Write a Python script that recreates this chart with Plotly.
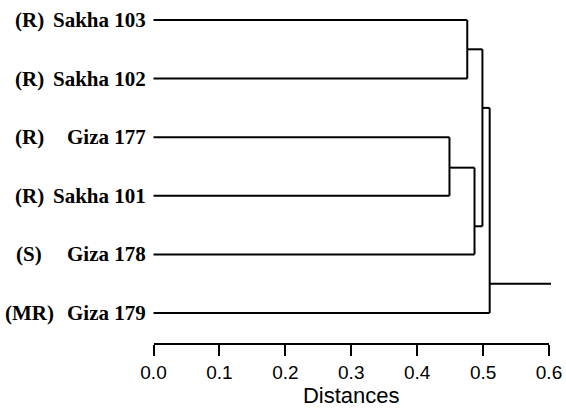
import plotly.graph_objects as go

# ---- data ----
prefixes = ["(R)", "(R)", "(R)", "(R)", "(S)", "(MR)"]
names = ["Sakha 103", "Sakha 102", "Giza 177", "Sakha 101", "Giza 178", "Giza 179"]
# merges: (child_a, child_b, height, position of the joining node in leaf-index units)
merge_a = [0, 2, 7, 6, 9]
merge_b = [1, 3, 4, 8, 5]
merge_h = [0.476, 0.449, 0.487, 0.499, 0.510]
merge_pos = [0.5, 2.52, 3.52, 1.50, 4.5]
root_end = 0.603
tick_vals = [0.0, 0.1, 0.2, 0.3, 0.4, 0.5, 0.6]
tick_text = ["0.0", "0.1", "0.2", "0.3", "0.4", "0.5", "0.6"]

# ---- geometry (pixels) ----
W, H = 566, 411
PL, PR = 150, 553      # plot area left/right px
PT, PB = 10, 343       # plot area top/bottom px
X0PX, X6PX = 153.5, 549.0
ppu = (X6PX - X0PX) / 0.6
xr = [-(X0PX - PL) / ppu, 0.6 + (PR - X6PX) / ppu]
LEAF0, LEAFSTEP = 20.0, 58.6
yr = [(PB - LEAF0) / LEAFSTEP, -(LEAF0 - PT) / LEAFSTEP]

n = len(names)
node_x = [0.0] * n
node_y = [float(i) for i in range(n)]
xs, ys = [], []
for a, b, h, p in zip(merge_a, merge_b, merge_h, merge_pos):
    for c in (a, b):
        xs += [node_x[c], h, None]
        ys += [node_y[c], node_y[c], None]
    xs += [h, h, None]
    ys += [node_y[a], node_y[b], None]
    node_x.append(h)
    node_y.append(p)
xs += [node_x[-1], root_end, None]
ys += [node_y[-1], node_y[-1], None]

fig = go.Figure()
fig.add_trace(go.Scatter(x=xs, y=ys, mode="lines",
                         line=dict(color="black", width=2),
                         hoverinfo="skip", showlegend=False))
# invisible trace to create the visible axis
fig.add_trace(go.Scatter(x=[0], y=[0], xaxis="x2", yaxis="y", mode="markers",
                         marker=dict(opacity=0, size=1), hoverinfo="skip", showlegend=False))

def px_to_paper(p):
    return (p - PL) / (PR - PL)

ann = []
for i, (pre, nm) in enumerate(zip(prefixes, names)):
    ann.append(dict(x=px_to_paper(148), y=i, xref="paper", yref="y",
                    text="<b>" + nm + "</b>", showarrow=False, xanchor="right", yanchor="middle",
                    font=dict(family="Liberation Serif", size=21, color="black")))
    ann.append(dict(x=px_to_paper(29), y=i, xref="paper", yref="y",
                    text="<b>" + pre + "</b>", showarrow=False, xanchor="center", yanchor="middle",
                    font=dict(family="Liberation Serif", size=21, color="black")))

d0 = (X0PX - PL) / (PR - PL)
d1 = (X6PX - PL) / (PR - PL)
fig.update_layout(
    width=W, height=H,
    margin=dict(l=PL, r=W - PR, t=PT, b=H - PB, pad=0, autoexpand=False),
    plot_bgcolor="rgba(0,0,0,0)", paper_bgcolor="white",
    xaxis=dict(range=xr, visible=False, domain=[0, 1], fixedrange=True),
    xaxis2=dict(range=[0, 0.6], domain=[d0, d1], anchor="y",
                showline=True, linecolor="black", linewidth=2,
                ticks="outside", ticklen=11, tickwidth=2, tickcolor="black",
                tickvals=tick_vals, ticktext=tick_text, showgrid=False, zeroline=False,
                fixedrange=True,
                tickfont=dict(family="Liberation Sans", size=19, color="black"),
                title=dict(text="Distances", standoff=1,
                           font=dict(family="Liberation Sans", size=22, color="black"))),
    yaxis=dict(range=yr, visible=False, fixedrange=True),
    annotations=ann,
    showlegend=False,
)
fig.write_html("out.html", config={"displayModeBar": False},
               post_script="document.body.style.margin='0';document.body.style.padding='0';")
